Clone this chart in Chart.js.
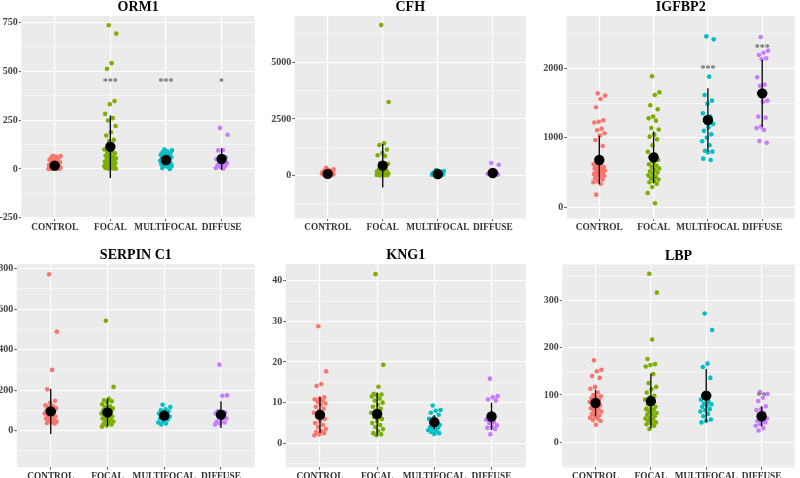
<!DOCTYPE html>
<html>
<head>
<meta charset="utf-8">
<script src="https://cdn.jsdelivr.net/npm/chart.js@4.4.1/dist/chart.umd.min.js"></script>
<style>
html,body{margin:0;padding:0;background:#fff;overflow:hidden;width:800px;height:478px;}
canvas{position:absolute;display:block;}
</style>
</head>
<body>
<script>
// ---------- data ----------
const categories = ['CONTROL', 'FOCAL', 'MULTIFOCAL', 'DIFFUSE'];
const groupColors = ['#F8766D', '#7CAE00', '#00BFC4', '#C77CFF'];

// ORM1
const orm1Control = [68,66,63,60,57,52,47,42,38,34,30,27,24,22,20,18,16,14,12,11,10,9,8,7,6,5,5,4,3,3,2,2,1,1,0,0];
const orm1Focal = [735,692,541,512,347,331,282,260,248,220,188,171,149,143,100,90,84,80,72,68,62,58,55,50,46,42,40,38,35,32,29,26,24,20,18,15,12,10,8,6,5,3,2,1];
const orm1Multi = [100,95,90,85,80,75,72,68,65,60,56,52,48,45,42,38,35,30,28,25,22,18,15,12,5,0];
const orm1Diffuse = [210,175,97,95,60,55,50,42,38,30,25,20,15,10,5,2];
const orm1Mean = [17, 114, 46, 51];
const orm1Sd = [18, 160, 25, 55];
const orm1Stars = ['', '***', '***', '*'];
const orm1StarY = [null, 456, 456, 456];

// CFH
const cfhControl = [350,280,250,220,200,180,160,150,140,130,120,110,100,95,90,85,80,75,70,65,60,55,50,45,40,35,30];
const cfhFocal = [6650,3250,1430,1350,1150,1000,900,870,560,520,300,250,220,200,180,160,150,140,130,120,110,100,95,90,85,80,75,70,65,60,55,50,45,40,35,30,25,20,15,10];
const cfhMulti = [250,200,170,150,130,110,100,90,80,70,60,55,50,45,40,35,30,25,20];
const cfhDiffuse = [560,480,150,120,100,90,80,70,60,50,40];
const cfhMean = [80, 441, 75, 118];
const cfhSd = [70, 960, 55, 150];
const cfhStars = ['', '', '', ''];
const cfhStarY = [null, null, null, null];

// IGFBP2
const igfControl = [1640,1607,1559,1439,1252,1230,1220,1132,1110,1065,1031,969,882,650,620,600,590,580,570,560,550,540,530,520,510,500,490,480,470,460,450,440,420,400,380,360,340,182];
const igfFocal = [1885,1655,1616,1468,1410,1305,1280,1247,1141,1120,1046,1017,978,892,800,760,720,680,650,620,600,580,560,540,520,500,480,460,440,420,400,380,360,340,293,206,58];
const igfMulti = [2460,2417,1880,1616,1535,1492,1352,1305,1280,1200,1151,1100,1050,1002,950,892,815,801,791,700,681];
const igfDiffuse = [2451,2254,2225,2192,2144,2130,1871,1765,1750,1535,1520,1305,1290,1161,1140,1113,954,930];
const igfMean = [681, 719, 1257, 1640];
const igfSd = [350, 372, 458, 480];
const igfStars = ['', '', '***', '***'];
const igfStarY = [null, null, 2014, 2321];

// SERPIN C1
const serControl = [772,489,300,204,148,137,125,120,115,110,105,100,95,90,85,80,75,70,65,60,55,50,45,40,38,35];
const serFocal = [543,216,157,150,145,140,130,120,115,110,105,100,95,90,85,80,75,70,65,60,55,50,45,40,35,30,25,20];
const serMulti = [128,117,105,100,95,90,85,80,75,70,65,60,55,45,40,35,30];
const serDiffuse = [326,174,172,95,90,88,85,80,70,60,55,45,40,35,30];
const serMean = [95, 90, 74, 79];
const serSd = [111, 68, 25, 66];
const serStars = ['', '', '', ''];
const serStarY = [null, null, null, null];

// KNG1
const kngControl = [28.8,17.7,14.6,14.1,11.3,11.0,10.8,10.5,10.2,9.8,9.5,9.0,8.5,8.0,7.5,7.0,6.5,6.0,5.5,5.0,4.5,4.0,3.5,3.0,2.8,2.5,2.2,2.0];
const kngFocal = [41.6,19.3,13.9,12.2,12.0,11.8,11.5,11.0,10.5,10.0,9.5,9.0,8.5,8.0,7.5,7.0,6.5,6.0,5.5,5.0,4.5,4.0,3.5,3.0,2.5,2.2,2.0];
const kngMulti = [9.3,8.2,8.0,7.5,7.0,6.3,6.0,5.5,5.0,4.5,4.2,4.0,3.8,3.5,3.2,3.0,2.8,2.5,2.3];
const kngDiffuse = [15.9,11.6,11.3,10.8,10.5,6.2,5.8,5.2,5.0,4.4,4.0,3.8,3.5,2.2];
const kngMean = [7.0, 7.2, 5.2, 6.6];
const kngSd = [4.4, 5.3, 1.7, 3.4];
const kngStars = ['', '', '', ''];
const kngStarY = [null, null, null, null];

// LBP
const lbpControl = [173,153,150,140,136,117,113,105,100,97,95,93,90,88,85,82,80,78,75,72,70,68,65,62,60,57,55,52,50,47,45,37];
const lbpFocal = [356,316,217,176,165,163,160,144,125,117,112,105,98,95,90,85,80,75,72,70,68,65,62,60,58,55,52,50,48,45,42,40,38,35,28];
const lbpMulti = [272,237,166,159,136,100,90,85,82,80,78,75,70,68,65,60,55,48,45,42];
const lbpDiffuse = [106,102,94,87,76,70,68,62,55,50,48,45,42,38,35,30,25];
const lbpMean = [83, 87, 98.6, 55];
const lbpSd = [28, 58, 56, 21];
const lbpStars = ['', '', '', '**'];
const lbpStarY = [null, null, null, 102];

// ---------- panel layout ----------
const panels = [
  {title:'ORM1', groups:[orm1Control,orm1Focal,orm1Multi,orm1Diffuse], mean:orm1Mean, sd:orm1Sd, stars:orm1Stars, starY:orm1StarY,
   cell:{l:0,t:0,w:262,h:238}, plot:{l:21.3,r:255,t:16,b:218.5}, ymin:-253, ymax:782, minor:125, major:250},
  {title:'CFH', groups:[cfhControl,cfhFocal,cfhMulti,cfhDiffuse], mean:cfhMean, sd:cfhSd, stars:cfhStars, starY:cfhStarY,
   cell:{l:262,t:0,w:269,h:238}, plot:{l:294.7,r:528.3,t:16,b:218.5}, ymin:-1890, ymax:7044, minor:1250, major:2500},
  {title:'IGFBP2', groups:[igfControl,igfFocal,igfMulti,igfDiffuse], mean:igfMean, sd:igfSd, stars:igfStars, starY:igfStarY,
   cell:{l:531,t:0,w:269,h:238}, plot:{l:566.7,r:800,t:16,b:218.5}, ymin:-161, ymax:2753, minor:500, major:1000},
  {title:'SERPIN C1', groups:[serControl,serFocal,serMulti,serDiffuse], mean:serMean, sd:serSd, stars:serStars, starY:serStarY,
   cell:{l:0,t:238,w:262,h:252}, plot:{l:16.7,r:255,t:264,b:467.3}, ymin:-181, ymax:823, minor:100, major:200},
  {title:'KNG1', groups:[kngControl,kngFocal,kngMulti,kngDiffuse], mean:kngMean, sd:kngSd, stars:kngStars, starY:kngStarY,
   cell:{l:262,t:238,w:269,h:252}, plot:{l:285.7,r:528.3,t:264,b:467.3}, ymin:-5.9, ymax:44.1, minor:5, major:10},
  {title:'LBP', groups:[lbpControl,lbpFocal,lbpMulti,lbpDiffuse], mean:lbpMean, sd:lbpSd, stars:lbpStars, starY:lbpStarY,
   cell:{l:531,t:238,w:269,h:252}, plot:{l:562.3,r:800,t:264.5,b:467.3}, ymin:-52.8, ymax:375.4, minor:50, major:100}
];

const SERIF = "'Liberation Serif', 'DejaVu Serif', serif";

// deterministic horizontal jitter (position only)
function jit(i) { return (((i * 0.6180339887 + 0.37) % 1) - 0.5) * 0.22; }

const bgPlugin = {
  id: 'panelBg',
  beforeDraw(chart) {
    const a = chart.chartArea, c = chart.ctx;
    c.save(); c.fillStyle = '#EBEBEB';
    c.fillRect(a.left, a.top, a.right - a.left, a.bottom - a.top);
    c.restore();
  }
};

const overlayPlugin = {
  id: 'overlay',
  afterDraw(chart) {
    const p = chart.options.plugins.overlay;
    const a = chart.chartArea, c = chart.ctx;
    const xs = chart.scales.x, ys = chart.scales.y;
    c.save();
    c.fillStyle = '#000';
    c.font = "bold 14px " + SERIF;
    c.textAlign = 'center'; c.textBaseline = 'middle';
    c.fillText(p.title, (a.left + a.right) / 2, a.top - 8.5);
    c.fillStyle = '#666';
    c.font = "bold 10px " + SERIF;
    c.textBaseline = 'alphabetic';
    p.stars.forEach((s, g) => {
      if (!s || p.starY[g] == null) return;
      c.fillText(s, xs.getPixelForValue(g + 1), ys.getPixelForValue(p.starY[g]) + 5);
    });
    c.restore();
  }
};

panels.forEach(p => {
  const cv = document.createElement('canvas');
  cv.width = p.cell.w; cv.height = p.cell.h;
  cv.style.left = p.cell.l + 'px'; cv.style.top = p.cell.t + 'px';
  cv.style.width = p.cell.w + 'px'; cv.style.height = p.cell.h + 'px';
  document.body.appendChild(cv);

  const datasets = [];
  p.groups.forEach((vals, g) => {
    datasets.push({
      data: vals.map((v, i) => ({x: g + 1 + jit(i), y: v})),
      backgroundColor: groupColors[g], borderWidth: 0, pointRadius: 2.3, order: 3
    });
  });
  p.mean.forEach((m, g) => {
    datasets.push({
      data: [{x: g + 1, y: m - p.sd[g]}, {x: g + 1, y: m + p.sd[g]}],
      showLine: true, borderColor: '#000', borderWidth: 1.3, pointRadius: 0, order: 2
    });
  });
  datasets.push({
    data: p.mean.map((m, g) => ({x: g + 1, y: m})),
    backgroundColor: '#000', borderWidth: 0, pointRadius: 5.2, order: 1
  });

  const isMajor = v => Math.abs(v / p.major - Math.round(v / p.major)) < 1e-6;
  const padTop = p.plot.t - p.cell.t;
  const padRight = (p.cell.l + p.cell.w) - p.plot.r;
  const yW = p.plot.l - p.cell.l;
  const xH = (p.cell.t + p.cell.h) - p.plot.b;

  new Chart(cv, {
    type: 'scatter',
    data: {datasets},
    options: {
      responsive: false, animation: false, events: [],
      devicePixelRatio: 1,
      layout: {padding: {top: padTop, right: padRight, left: 0, bottom: 0}},
      plugins: {
        legend: {display: false}, tooltip: {enabled: false}, title: {display: false},
        overlay: {title: p.title, stars: p.stars, starY: p.starY}
      },
      scales: {
        x: {
          type: 'linear', min: 0.4, max: 4.6,
          afterBuildTicks: s => { s.ticks = categories.map((c, i) => ({value: i + 1})); },
          ticks: {autoSkip: false, maxRotation: 0, minRotation: 0, padding: 1,
                  color: '#333', font: {family: SERIF, weight: 'bold', size: 9.3},
                  callback: v => categories[Math.round(v) - 1] || ''},
          grid: {color: '#FFFFFF', lineWidth: 1.1, tickLength: 2.5, tickColor: '#333', tickWidth: 0.8},
          border: {display: false},
          afterFit: s => { s.height = xH; }
        },
        y: {
          type: 'linear', min: p.ymin, max: p.ymax,
          afterBuildTicks: s => {
            const t = [];
            const k0 = Math.ceil(p.ymin / p.minor), k1 = Math.floor(p.ymax / p.minor);
            for (let k = k0; k <= k1; k++) t.push({value: +(k * p.minor).toFixed(6)});
            s.ticks = t;
          },
          ticks: {autoSkip: false, padding: 1,
                  color: '#444', font: {family: SERIF, weight: 'bold', size: 10},
                  callback: v => isMajor(v) ? String(v) : ''},
          grid: {
            color: '#FFFFFF',
            lineWidth: ctx => (ctx.tick && isMajor(ctx.tick.value)) ? 1.1 : 0.5,
            tickLength: 2.5,
            tickColor: ctx => (ctx.tick && isMajor(ctx.tick.value)) ? '#333' : 'rgba(0,0,0,0)',
            tickWidth: 0.8
          },
          border: {display: false},
          afterFit: s => { s.width = yW; }
        }
      }
    },
    plugins: [bgPlugin, overlayPlugin]
  });
});
</script>
</body>
</html>
